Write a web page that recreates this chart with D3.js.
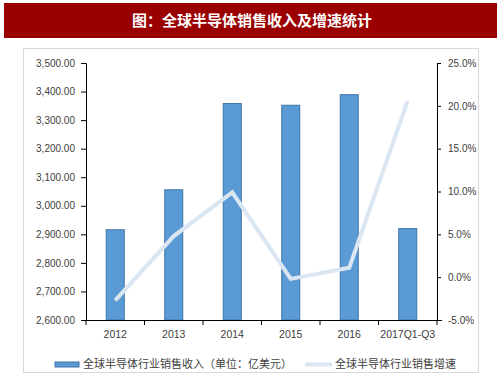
<!DOCTYPE html>
<html><head><meta charset="utf-8">
<script src="https://cdn.jsdelivr.net/npm/d3@7"></script>
<style>body{margin:0;background:#fff;}svg{display:block;}</style>
</head><body>
<script>
const categories = ["2012","2013","2014","2015","2016","2017Q1-Q3"];
const revenue = [2916, 3056, 3358, 3352, 3389, 2920];
const growth = [-2.7, 4.8, 9.9, -0.2, 1.1, 20.6];
const leftTicks = [2600,2700,2800,2900,3000,3100,3200,3300,3400,3500];
const rightTicks = [-5,0,5,10,15,20,25];
const title = "图：全球半导体销售收入及增速统计";
const legendBar = "全球半导体行业销售收入（单位：亿美元）";
const legendLine = "全球半导体行业销售增速";

const W=503,H=378;
const svg=d3.select("body").append("svg").attr("width",W).attr("height",H);
svg.append("rect").attr("x",4).attr("y",3).attr("width",493).attr("height",35).attr("fill","#9b0000");
svg.append("text").attr("x",252).attr("y",26).attr("text-anchor","middle").attr("fill","#fff")
  .attr("font-family","'Noto Sans CJK SC'").attr("font-weight","bold").attr("font-size",15).text(title);
svg.append("rect").attr("x",23.5).attr("y",48.5).attr("width",455).attr("height",324).attr("fill","#fff").attr("stroke","#d9d9d9");

const x0=86,x1=437,yTop=63,yBot=320;
const x=d3.scaleBand().domain(categories).range([x0,x1]);
const yL=d3.scaleLinear().domain([2600,3500]).range([yBot,yTop]);
const yR=d3.scaleLinear().domain([-5,25]).range([yBot,yTop]);
const font="'Liberation Sans', Arial, sans-serif";

svg.append("g").selectAll("rect").data(revenue).join("rect")
  .attr("x",(d,i)=>x(categories[i])+x.bandwidth()/2-9).attr("width",18)
  .attr("y",d=>yL(d)).attr("height",d=>yBot-yL(d))
  .attr("fill","#5b9bd5").attr("stroke","#3e74a8").attr("stroke-width",1);

const line=d3.line().x((d,i)=>x(categories[i])+x.bandwidth()/2).y(d=>yR(d));
svg.append("path").datum(growth).attr("d",line).attr("fill","none")
  .attr("stroke","#dbe6f3").attr("stroke-width",4).attr("stroke-linejoin","miter");

const gL=svg.append("g").attr("transform",`translate(${x0},0)`)
  .call(d3.axisLeft(yL).tickValues(leftTicks).tickSize(5).tickPadding(6).tickFormat(d3.format(",.2f")));
const gR=svg.append("g").attr("transform",`translate(${x1},0)`)
  .call(d3.axisRight(yR).tickValues(rightTicks).tickSize(4).tickPadding(7).tickFormat(d=>d.toFixed(1)+"%"));
const gB=svg.append("g").attr("transform",`translate(0,${yBot})`)
  .call(d3.axisBottom(x).tickSize(0).tickPadding(11));
[gL,gR,gB].forEach(g=>{
  g.selectAll("path.domain").attr("stroke","#000");
  g.selectAll("line").attr("stroke","#000");
  g.selectAll("text").attr("font-family",font).attr("font-size",10).attr("fill","#404040");
});
gB.selectAll("text").attr("font-size",10.5);
gB.select("path.domain").attr("d",`M${x0-5},0.5H${x1+5}`);
// bottom tick marks at band boundaries
svg.append("g").selectAll("line").data(d3.range(categories.length+1)).join("line")
  .attr("x1",i=>x0+i*x.step()).attr("x2",i=>x0+i*x.step())
  .attr("y1",yBot).attr("y2",yBot+5).attr("stroke","#000");

// legend
svg.append("rect").attr("x",55).attr("y",362).attr("width",24).attr("height",5).attr("fill","#5b9bd5").attr("stroke","#3e74a8");
svg.append("text").attr("x",83).attr("y",368).attr("font-family","'Noto Sans CJK SC'").attr("font-size",11).attr("fill","#404040").text(legendBar);
svg.append("line").attr("x1",305).attr("x2",332).attr("y1",364.5).attr("y2",364.5).attr("stroke","#dbe6f3").attr("stroke-width",4);
svg.append("text").attr("x",335).attr("y",368).attr("font-family","'Noto Sans CJK SC'").attr("font-size",11).attr("fill","#404040").text(legendLine);
</script>
</body></html>
